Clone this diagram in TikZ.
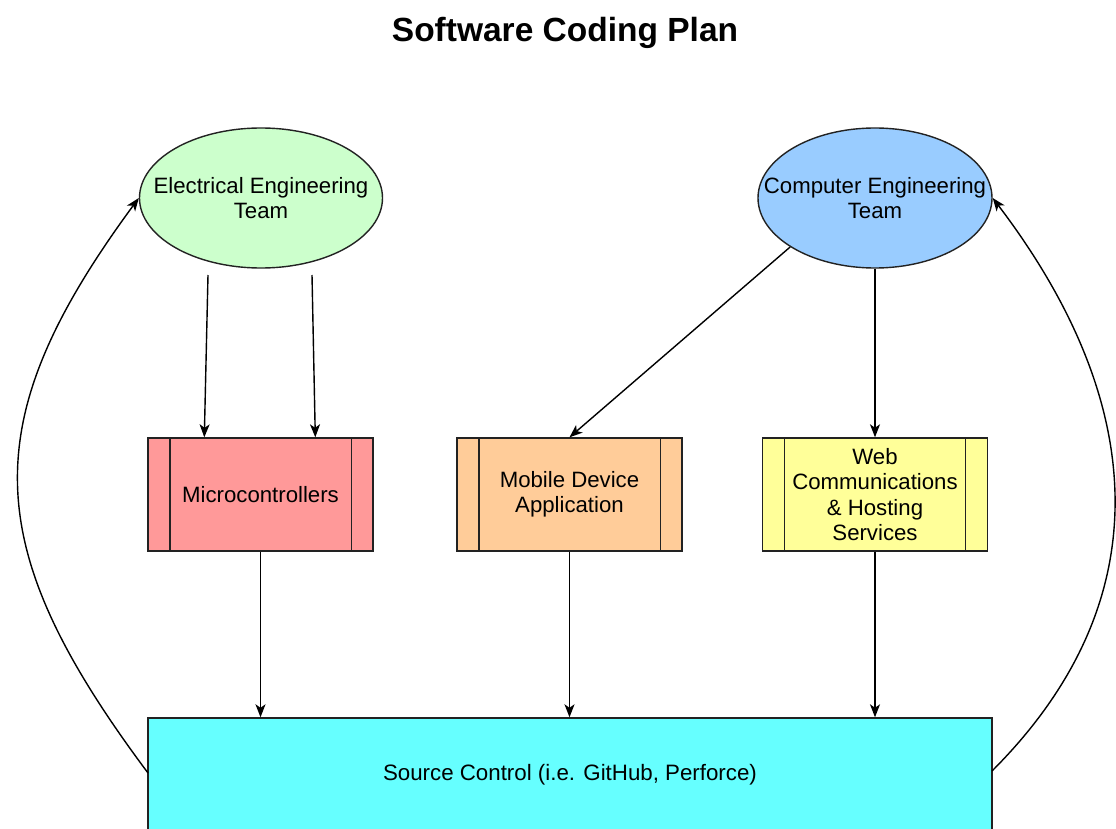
\documentclass[tikz,border=0pt]{standalone}
\usepackage{fontspec}
\setmainfont{Liberation Sans}
\usetikzlibrary{shapes.geometric,arrows.meta}
\definecolor{eegreen}{HTML}{CCFFCC}
\definecolor{ceblue}{HTML}{99CCFF}
\definecolor{microred}{HTML}{FF9999}
\definecolor{mobileorange}{HTML}{FFCC99}
\definecolor{webyellow}{HTML}{FFFF99}
\definecolor{srccyan}{HTML}{66FFFF}
\definecolor{edge}{HTML}{222222}
\begin{document}
\begin{tikzpicture}[x=1pt,y=-1pt,
  every node/.style={font=\fontsize{22.2}{25.5}\selectfont},
  team/.style={ellipse,draw=edge,line width=1.4pt,minimum height=140pt,inner xsep=-30pt,inner ysep=0pt,align=center},
  proc/.style={rectangle,draw=edge,line width=1.4pt,minimum width=225pt,minimum height=113pt,inner sep=0pt,align=center},
  sideline/.style={draw=edge,line width=1.4pt},
  arr/.style={-{Stealth[length=13pt,width=10pt,inset=3.5pt]},line width=1.4pt,draw=black},
  ]
\useasboundingbox (0,0) rectangle (1116,829);
\clip (0,0) rectangle (1116,829);
\fill[white] (0,0) rectangle (1116,829);

% title
\node[font=\fontsize{33.5}{40}\selectfont\bfseries, anchor=base] (title) at (565,42) {Software Coding Plan};

% teams
\node[team, fill=eegreen, minimum width=243pt] (ee) at (261,198) {Electrical Engineering\\Team};
\node[team, fill=ceblue, minimum width=234pt] (ce) at (875,198) {Computer Engineering\\Team};

% processes
\node[proc, fill=microred] (micro) at (260.5,494.5) {Microcontrollers};
\node[proc, fill=mobileorange] (mob) at (569.5,494.5) {Mobile Device\\Application};
\node[proc, fill=webyellow] (web) at (875,494.5) {Web\\Communications\\\& Hosting\\Services};

\foreach \n in {micro,mob,web}{
  \draw[sideline] ([xshift=22.5]\n.north west) -- ([xshift=22.5]\n.south west);
  \draw[sideline] ([xshift=-22.5]\n.north east) -- ([xshift=-22.5]\n.south east);
}

% source control
\node[rectangle, draw=edge, line width=1.4pt, fill=srccyan, minimum width=844pt, minimum height=114pt, inner sep=0pt, font=\fontsize{22.3}{26}\selectfont] (src) at (570,775) {Source Control (i.e. GitHub, Perforce)};

% connectors
\coordinate (ea1) at (208,275);
\coordinate (ea2) at (312,275);
\draw[arr] (ea1) -- ([xshift=57]micro.north west);
\draw[arr] (ea2) -- ([xshift=168]micro.north west);
\draw[arr] (ce.210) -- (mob.north);
\draw[arr] (ce.south) -- (web.north);

\draw[arr] (micro.south) -- (micro.south |- src.north);
\draw[arr] (mob.south) -- (mob.south |- src.north);
\draw[arr] (web.south) -- (web.south |- src.north);

\coordinate (sl) at (148,773);
\coordinate (sr) at (992,771);
\draw[arr] (sl) .. controls (-20,548) and (-27,423) .. (ee.west);
\draw[arr] (sr) .. controls (1166,597) and (1144,397) .. (ce.east);
\end{tikzpicture}
\end{document}
